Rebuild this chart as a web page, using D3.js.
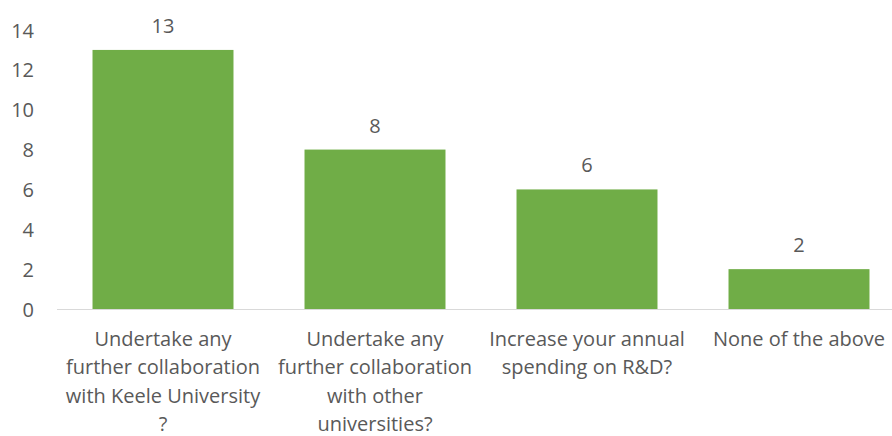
<!DOCTYPE html>
<html>
<head>
<meta charset="utf-8">
<script src="https://cdn.jsdelivr.net/npm/d3@7"></script>
<style>
  html, body { margin: 0; padding: 0; background: #fff; }
  svg { display: block; }
  text { font-family: "Open Sans", "Noto Sans", sans-serif; fill: #595959; }
</style>
</head>
<body>
<svg id="chart" width="892" height="436"></svg>
<script>
// Survey responses per option
const categories = [
  "Undertake any further collaboration with Keele University ?",
  "Undertake any further collaboration with other universities?",
  "Increase your annual spending on R&D?",
  "None of the above"
];
// Category labels broken into display lines
const categoryLines = [
  ["Undertake any", "further collaboration", "with Keele University", "?"],
  ["Undertake any", "further collaboration", "with other", "universities?"],
  ["Increase your annual", "spending on R&D?"],
  ["None of the above"]
];
const values = [13, 8, 6, 2];
const yTicks = [0, 2, 4, 6, 8, 10, 12, 14];

const svg = d3.select("#chart");
const plot = { left: 57, right: 905, top: 30, bottom: 309 };
const fontSize = "20px";

const x = d3.scaleBand()
  .domain(categories)
  .range([plot.left, plot.right])
  .paddingInner(0.335)
  .paddingOuter(0.1675);

const y = d3.scaleLinear()
  .domain([0, 14])
  .range([plot.bottom, plot.top]);

// Y tick labels (no axis line, no gridlines)
const yAxis = d3.axisLeft(y).tickValues(yTicks).tickSize(0).tickPadding(0);
const gy = svg.append("g").attr("transform", "translate(34,0)").call(yAxis);
gy.select(".domain").remove();
gy.selectAll("text")
  .attr("font-family", null)
  .style("font-size", fontSize)
  .attr("dy", "0.35em");

// Bars
svg.append("g").selectAll("rect")
  .data(values)
  .join("rect")
  .attr("x", (d, i) => x(categories[i]))
  .attr("y", d => y(d))
  .attr("width", x.bandwidth())
  .attr("height", d => y(0) - y(d))
  .attr("fill", "#70ad47");

// Baseline
svg.append("line")
  .attr("x1", plot.left).attr("x2", plot.right)
  .attr("y1", y(0) + 0.5).attr("y2", y(0) + 0.5)
  .attr("stroke", "#d9d9d9").attr("stroke-width", 1);

// Value labels
svg.append("g").selectAll("text")
  .data(values)
  .join("text")
  .attr("x", (d, i) => x(categories[i]) + x.bandwidth() / 2)
  .attr("y", d => y(d) - 17)
  .attr("text-anchor", "middle")
  .style("font-size", fontSize)
  .text(d => d);

// Category labels
const xAxis = d3.axisBottom(x).tickSize(0).tickFormat("");
const gx = svg.append("g").attr("transform", `translate(0,${plot.bottom})`).call(xAxis);
gx.select(".domain").remove();
gx.selectAll(".tick").each(function(d, i) {
  const t = d3.select(this).append("text")
    .attr("text-anchor", "middle")
    .style("font-size", fontSize);
  categoryLines[i].forEach((line, k) => {
    t.append("tspan").attr("x", 0).attr("y", 37 + k * 28.3).text(line);
  });
});
</script>
</body>
</html>
